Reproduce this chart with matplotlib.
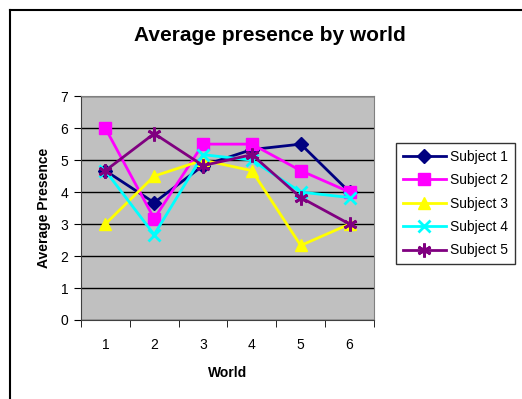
import matplotlib.pyplot as plt
import numpy as np
from matplotlib.lines import Line2D

plt.rcParams["font.family"] = ["Liberation Sans", "DejaVu Sans"]

# World numbers and per-subject average presence
worlds = [1, 2, 3, 4, 5, 6]
subject_1 = [4.67, 3.67, 4.83, 5.33, 5.5, 4.0]
subject_2 = [6.0, 3.17, 5.5, 5.5, 4.67, 4.0]
subject_3 = [3.0, 4.5, 5.0, 4.67, 2.33, 3.0]
subject_4 = [4.67, 2.67, 5.17, 5.0, 4.0, 3.83]
subject_5 = [4.67, 5.83, 4.83, 5.17, 3.83, 3.0]
labels = ["Subject 1", "Subject 2", "Subject 3", "Subject 4", "Subject 5"]

series = [subject_1, subject_2, subject_3, subject_4, subject_5]
colors = ["#000080", "#FF00FF", "#FFFF00", "#00FFFF", "#800080"]
markers = ["D", "s", "^", "x", (6, 2, 0)]
msizes = [7, 9, 9, 8, 10]

fig = plt.figure(figsize=(5.22, 3.99), dpi=100)
ax = fig.add_axes([0.155, 0.198, 0.5615, 0.561])
ax.set_facecolor("#C0C0C0")

for vals, col, mk, ms, lab in zip(series, colors, markers, msizes, labels):
    ax.plot(worlds, vals, color=col, linewidth=2, marker=mk, markersize=ms,
            markeredgewidth=2 if mk in ("x", (6, 2, 0)) else 1,
            markeredgecolor=col, label=lab)

ax.set_ylim(0, 7)
ax.set_xlim(0.5, 6.5)
ax.set_yticks(range(0, 8))
ax.grid(axis="y", color="black", linewidth=1)
ax.set_axisbelow(True)

# category ticks sit between the worlds, labels centred under each world
ax.set_xticks(worlds)
ax.set_xticks(np.arange(0.5, 7.0, 1.0), minor=True)
ax.tick_params(axis="x", which="major", length=0, pad=13, labelsize=10)
ax.tick_params(axis="x", which="minor", length=5, direction="out")
ax.tick_params(axis="y", length=5, direction="out", labelsize=10, pad=4)

for side in ["top", "right"]:
    ax.spines[side].set_color("#808080")
for side in ["left", "bottom"]:
    ax.spines[side].set_color("#404040")

ax.set_xlabel("World", fontsize=10, fontweight="bold", labelpad=10)
ax.set_ylabel("Average Presence", fontsize=10, fontweight="bold", labelpad=7)
fig.text(0.517, 0.91, "Average presence by world", ha="center", va="center",
         fontsize=15, fontweight="bold")

leg = ax.legend(loc="center left", bbox_to_anchor=(1.075, 0.52), fontsize=10,
                frameon=True, fancybox=False, edgecolor="black",
                handlelength=3.1, labelspacing=0.68, borderpad=0.5,
                handletextpad=0.3, borderaxespad=0)
leg.get_frame().set_linewidth(1)

# outer chart border (only top and left visible)
fig.add_artist(Line2D([10 / 522, 1], [1 - 10 / 399, 1 - 10 / 399],
                      transform=fig.transFigure, color="black", linewidth=1.5))
fig.add_artist(Line2D([10 / 522, 10 / 522], [0, 1 - 10 / 399],
                      transform=fig.transFigure, color="black", linewidth=1.5))

plt.savefig("out.png", dpi=100)
